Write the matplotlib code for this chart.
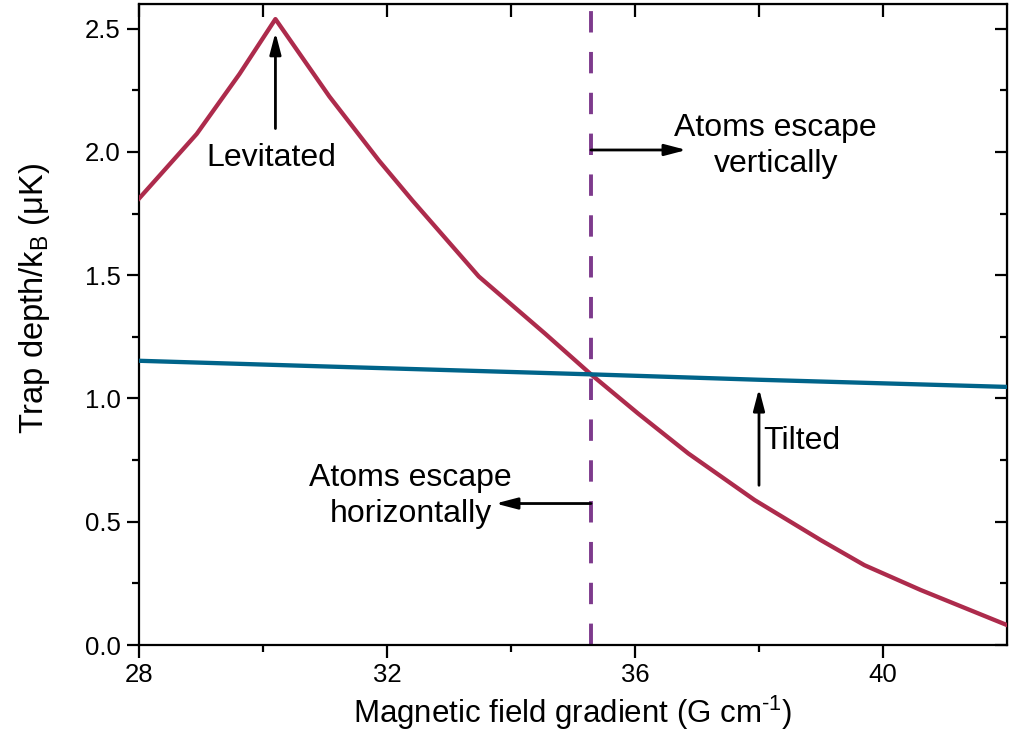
import matplotlib
matplotlib.use("Agg")
import matplotlib.pyplot as plt
import numpy as np

plt.rcParams['font.family'] = ['Liberation Sans', 'DejaVu Sans']
plt.rcParams['mathtext.fontset'] = 'custom'
plt.rcParams['mathtext.rm'] = 'Liberation Sans'
plt.rcParams['mathtext.it'] = 'Liberation Sans:italic'

# levitated trap depth
grad_lev = [28.0, 28.93, 29.62, 30.20, 31.07, 31.87, 32.41, 33.48, 34.55,
            35.28, 36.05, 36.86, 37.93, 39.0, 39.70, 40.61, 42.0]
depth_lev = [1.811, 2.073, 2.316, 2.539, 2.225, 1.965, 1.803, 1.495, 1.263,
             1.100, 0.939, 0.777, 0.588, 0.425, 0.324, 0.223, 0.081]

# tilted trap depth
grad_tilt = [28.0, 31.0, 35.28, 38.0, 42.0]
depth_tilt = [1.153, 1.130, 1.098, 1.076, 1.047]

crossover = 35.29

RED = '#ad2b4c'
BLUE = '#00648a'
PURPLE = '#7d3a8c'

fig = plt.figure(figsize=(10.09, 7.33), dpi=100)
ax = fig.add_axes([0.1378, 0.12, 0.8602, 0.8745])

ax.plot(grad_lev, depth_lev, color=RED, lw=3.1, zorder=3)
ax.plot(grad_tilt, depth_tilt, color=BLUE, lw=3.1, zorder=3)
ax.axvline(crossover, color=PURPLE, lw=2.8, dashes=(5.5, 5), zorder=2)

ax.set_xlim(28, 42)
ax.set_ylim(0, 2.6)
ax.set_xticks([28, 32, 36, 40])
ax.set_xticks([30, 34, 38], minor=True)
ax.set_yticks(np.arange(0, 2.51, 0.5))
ax.set_yticks(np.arange(0.25, 2.6, 0.5), minor=True)
ax.yaxis.set_major_formatter(matplotlib.ticker.FormatStrFormatter('%.1f'))

for s in ax.spines.values():
    s.set_linewidth(1.6)
ax.tick_params(which='both', direction='out', width=1.6, labelsize=18.5,
               top=False, right=False)
ax.tick_params(which='major', length=9, pad=4)
ax.tick_params(which='minor', length=5)

# mirrored inward ticks on top and right
axt = ax.secondary_xaxis('top')
axt.set_xticks([28, 32, 36, 40])
axt.set_xticks([30, 34, 38], minor=True)
axt.tick_params(which='both', direction='in', width=1.6, labeltop=False)
axt.tick_params(which='major', length=9)
axt.tick_params(which='minor', length=9)
axr = ax.secondary_yaxis('right')
axr.set_yticks(np.arange(0, 2.51, 0.5))
axr.set_yticks(np.arange(0.25, 2.6, 0.5), minor=True)
axr.tick_params(which='both', direction='in', width=1.6, labelright=False)
axr.tick_params(which='major', length=9)
axr.tick_params(which='minor', length=5)

ax.set_xlabel(r'Magnetic field gradient (G cm$^{\text{-1}}$)', fontsize=22.5, labelpad=5)
ax.set_ylabel(r'Trap depth/k$_{\rm B}$ (μK)', fontsize=23.5, labelpad=24)
ax.yaxis.label.set_y(0.54)

arrow = dict(arrowstyle='-|>,head_length=0.65,head_width=0.17', lw=2,
             color='black', mutation_scale=20, shrinkA=0, shrinkB=0)
fs = 23

ax.annotate('', xy=(30.20, 2.485), xytext=(30.20, 2.095), arrowprops=arrow)
ax.text(30.13, 1.945, 'Levitated', fontsize=fs, ha='center', va='baseline')

ax.annotate('', xy=(36.83, 2.008), xytext=(crossover, 2.008), arrowprops=arrow)
ax.text(38.27, 1.918, 'Atoms escape\nvertically', fontsize=fs, ha='center',
        va='baseline', linespacing=1.25)

ax.annotate('', xy=(33.75, 0.574), xytext=(crossover, 0.574), arrowprops=arrow)
ax.text(32.38, 0.500, 'Atoms escape\nhorizontally', fontsize=fs, ha='center',
        va='baseline', linespacing=1.25)

ax.annotate('', xy=(38.0, 1.040), xytext=(38.0, 0.648), arrowprops=arrow)
ax.text(38.07, 0.797, 'Tilted', fontsize=fs, ha='left', va='baseline')

fig.savefig('out.png', dpi=100)
